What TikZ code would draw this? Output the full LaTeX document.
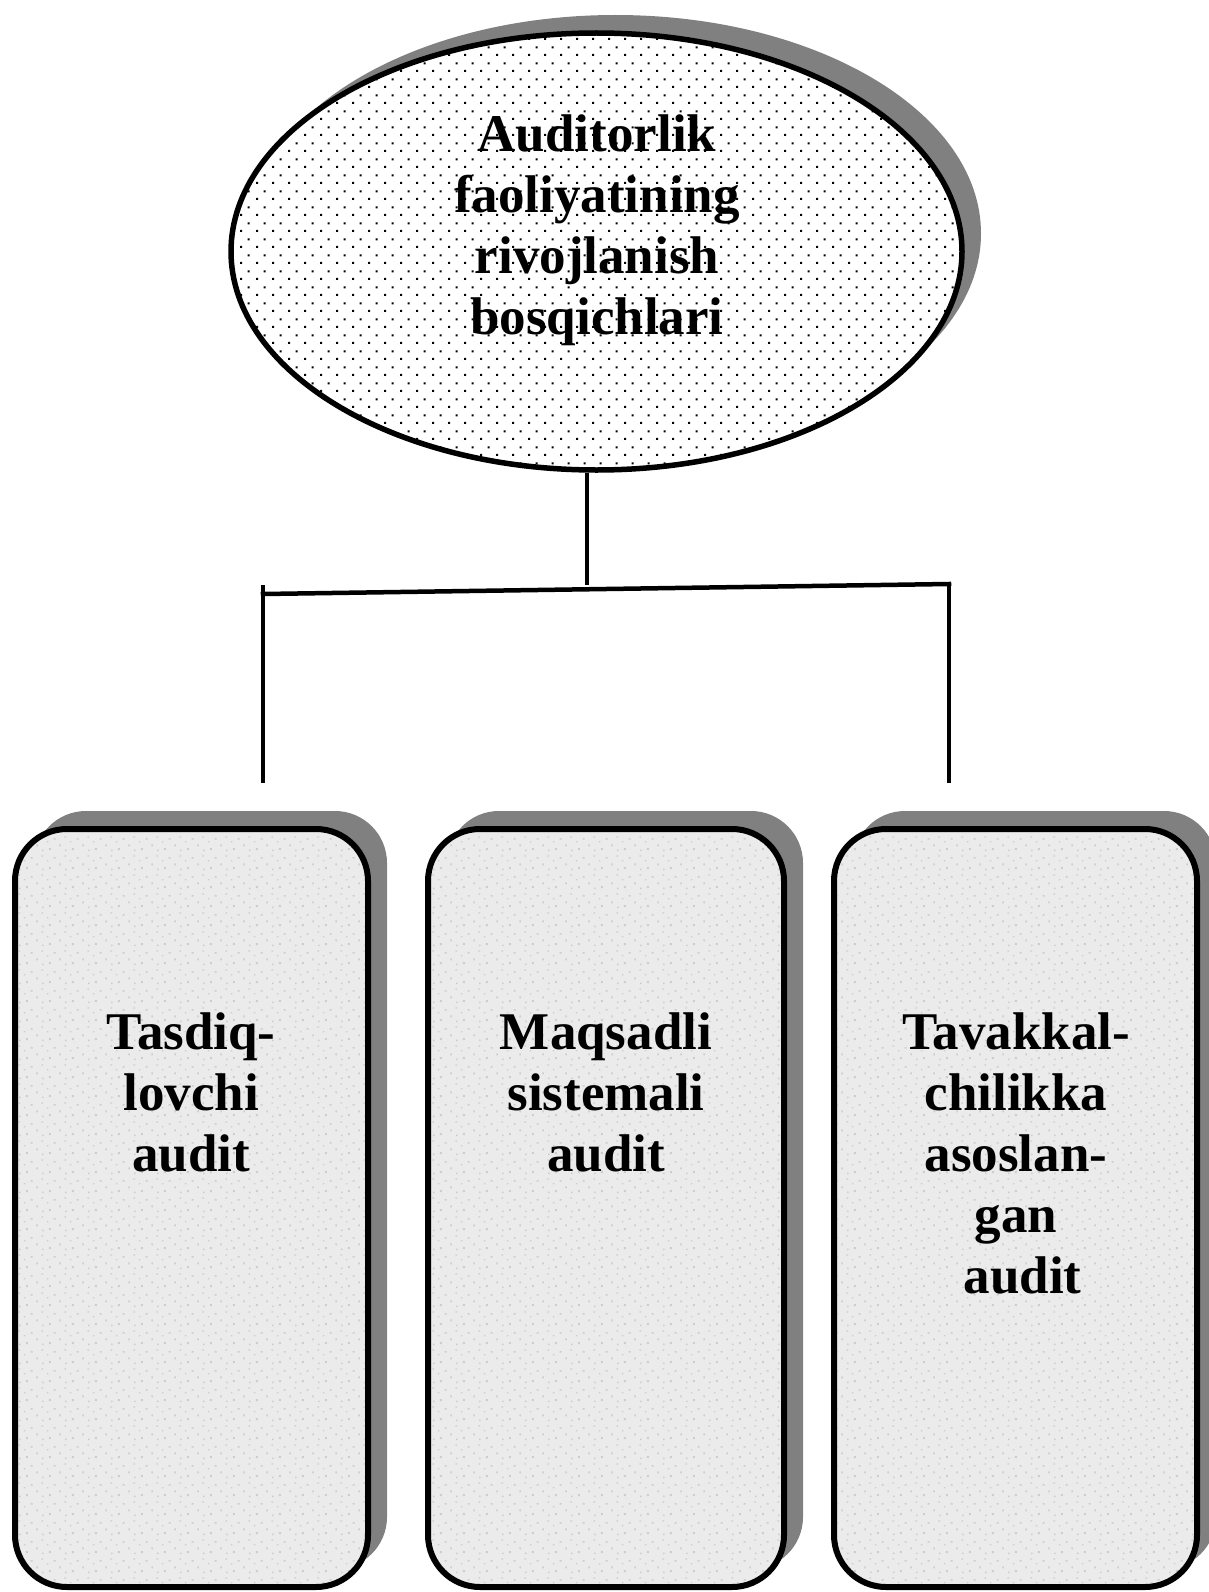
\documentclass[tikz,border=0pt]{standalone}
\usepackage{fontspec}
\setmainfont{Liberation Serif}
\usetikzlibrary{shapes.geometric,shadows,patterns.meta}
\definecolor{shadowgray}{HTML}{808080}
\definecolor{boxfill}{HTML}{EBEBEB}
\definecolor{speck}{HTML}{CDCDCD}
\tikzdeclarepattern{
  name=ovaldots,
  type=uncolored,
  bottom left={(0pt,0pt)},
  top right={(16pt,16pt)},
  tile size={(16pt,16pt)},
  code={
    \fill (0pt,0pt) rectangle (2.2pt,2.2pt);
    \fill (8pt,8pt) rectangle (10.2pt,10.2pt);
  }
}
\tikzdeclarepattern{
  name=speckle,
  type=uncolored,
  bottom left={(0pt,0pt)},
  top right={(23pt,19pt)},
  tile size={(23pt,19pt)},
  code={
    \fill (3pt,2pt) rectangle (5pt,4pt);
    \fill (14pt,6pt) rectangle (15.5pt,8pt);
    \fill (8pt,13pt) rectangle (10pt,14.5pt);
    \fill (19pt,15pt) rectangle (21pt,16.5pt);
    \fill (1pt,10pt) rectangle (2.5pt,11.5pt);
    \fill (20pt,1pt) rectangle (21.5pt,2.5pt);
  }
}
\begin{document}
\begin{tikzpicture}[x=1pt,y=-1pt,
  oval/.style={ellipse, minimum width=731pt,
    minimum height=437pt, inner sep=0pt,
    general shadow={fill=shadowgray, shadow xshift=19pt, shadow yshift=18pt},
    preaction={fill=white},
    pattern=ovaldots, pattern color=black,
    draw=black, line width=5.5pt},
  stagebox/.style={rectangle, rounded corners=52pt, minimum height=758pt, inner sep=0pt,
    general shadow={fill=shadowgray, shadow xshift=19pt, shadow yshift=18pt},
    preaction={fill=boxfill},
    pattern=speckle, pattern color=speck,
    draw=black, line width=6pt},
  txt/.style={align=center, inner sep=0pt, anchor=north,
    font=\bfseries\fontsize{53}{61}\selectfont},
  conn/.style={line width=4pt}
]
\fill[white] (0,0) rectangle (1208,1592);
\useasboundingbox (0,0) rectangle (1208,1592);

\node[oval] (e) at (596.5,251.5) {};
\node[stagebox, minimum width=353pt] (b1) at (191.5,1208) {};
\node[stagebox, minimum width=356pt] (b2) at (606,1208) {};
\node[stagebox, minimum width=363pt] (b3) at (1015.5,1208) {};

\node[txt] (et) at (597,115) {Auditorlik\\faoliyatining\\rivojlanish\\bosqichlari};
\node[txt] (t1) at (191,1013) {Tasdiq-\\lovchi\\audit};
\node[txt] (t2) at (606,1013) {Maqsadli\\sistemali\\audit};
\node[txt] (t3) at (1016,1013) {Tavakkal-\\chilikka\\asoslan-\\gan\\\hspace*{0.25em}audit};

\coordinate (jt) at (587,585);
\coordinate (jl) at (263,594);
\coordinate (jr) at (949,584);
\coordinate (lt) at (263,585);
\coordinate (lb) at (263,783);
\coordinate (rb) at (949,783);
\draw[conn] (e.south -| jt) -- (jt);
\draw[conn, line width=4.5pt, line cap=rect] (jl) -- (jr);
\draw[conn] (lt) -- (lb);
\draw[conn] (jr) -- (rb);
\end{tikzpicture}
\end{document}
